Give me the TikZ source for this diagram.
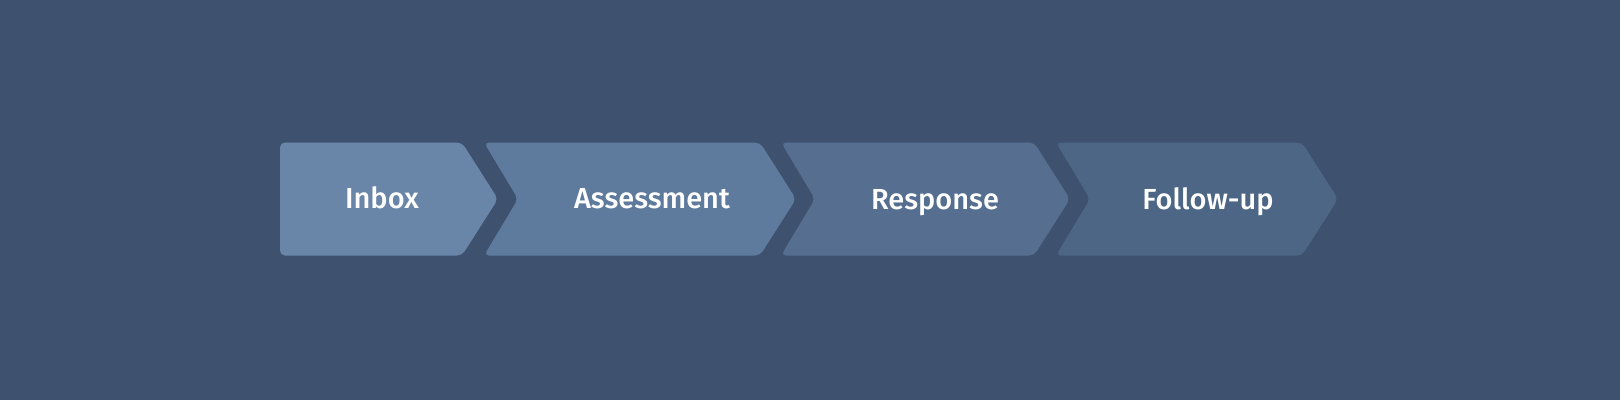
\documentclass[tikz,border=0pt]{standalone}
\usepackage{fontspec}
\setmainfont{Fira Sans}[UprightFont=* Medium, BoldFont=* SemiBold]
\definecolor{bgc}{HTML}{3E5270}
\definecolor{c1}{HTML}{6985A8}
\definecolor{c2}{HTML}{5E7A9D}
\definecolor{c3}{HTML}{566F91}
\definecolor{c4}{HTML}{4D6686}
\tikzset{
  chev/.style={rounded corners=5pt, draw=none},
  lbl/.style={text=white, font=\fontsize{29}{31}\selectfont, anchor=base, inner sep=0pt}
}
\begin{document}
\begin{tikzpicture}[x=1pt,y=-1pt]
\fill[bgc] (0,0) rectangle (1620,400);
\useasboundingbox (0,0) rectangle (1620,400);
% chevrons
\fill[c1,chev] (280,142.5) -- (462,142.5) -- (498,199) -- (462,255.5) -- (280,255.5) -- cycle;
\fill[c2,chev] (484,142.5) -- (760,142.5) -- (796,199) -- (760,255.5) -- (484,255.5) -- (518,199) -- cycle;
\fill[c3,chev] (781,142.5) -- (1034,142.5) -- (1070,199) -- (1034,255.5) -- (781,255.5) -- (815,199) -- cycle;
\fill[c4,chev] (1056,142.5) -- (1302,142.5) -- (1338,199) -- (1302,255.5) -- (1056,255.5) -- (1090,199) -- cycle;
% labels
\node[lbl] (inbox) at (382,208.5) {Inbox};
\node[lbl] (assess) at (652,208.5) {Assessment};
\node[lbl] (resp) at (935,209.5) {Response};
\node[lbl] (follow) at (1208,209.5) {Follow-up};
\end{tikzpicture}
\end{document}
